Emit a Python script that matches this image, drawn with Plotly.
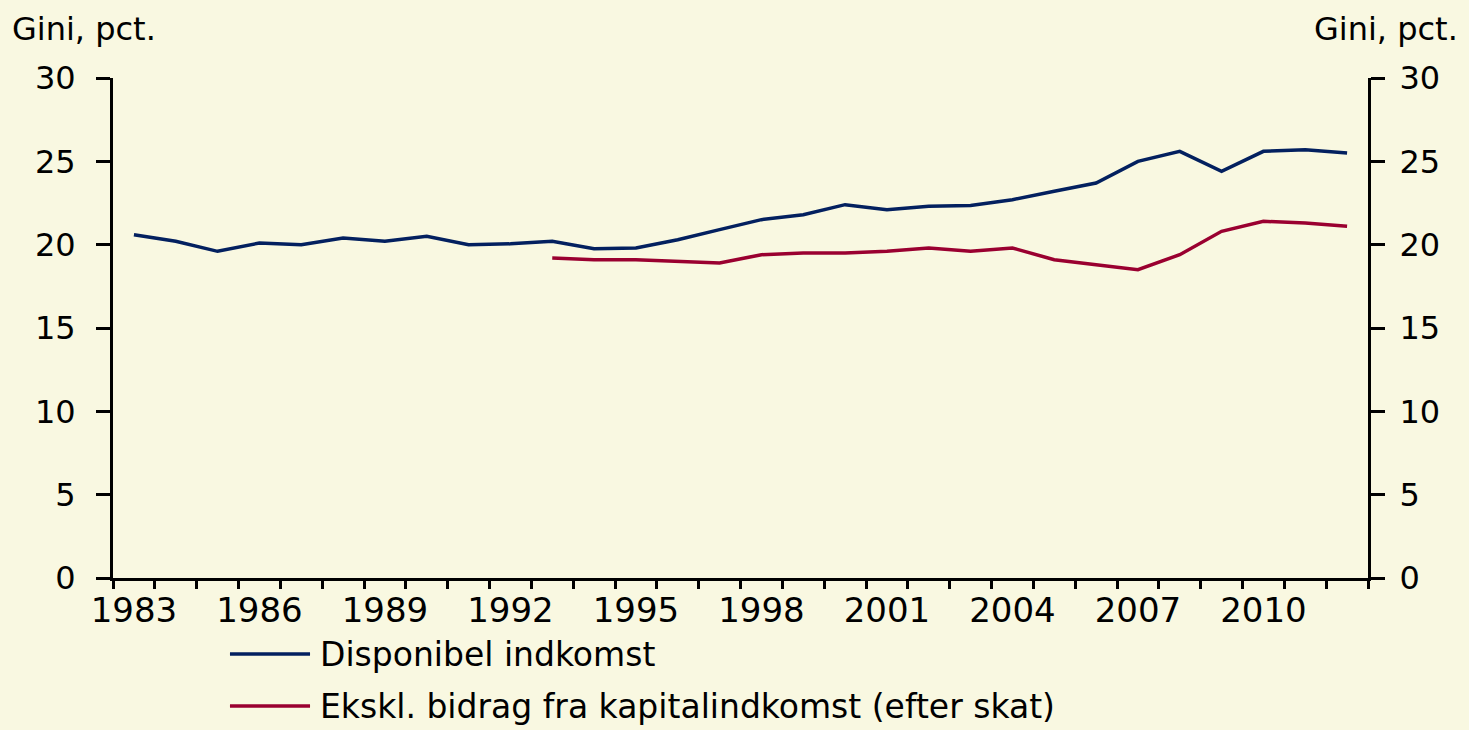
import plotly.graph_objects as go

years = list(range(1983, 2013))
disponibel = [20.6, 20.2, 19.6, 20.1, 20.0, 20.4, 20.2, 20.5, 20.0, 20.05,
              20.2, 19.75, 19.8, 20.3, 20.9, 21.5, 21.8, 22.4, 22.1, 22.3,
              22.35, 22.7, 23.2, 23.7, 25.0, 25.6, 24.4, 25.6, 25.7, 25.5]
ekskl_years = list(range(1993, 2013))
ekskl = [19.2, 19.1, 19.1, 19.0, 18.9, 19.4, 19.5, 19.5, 19.6, 19.8,
         19.6, 19.8, 19.1, 18.8, 18.5, 19.4, 20.8, 21.4, 21.3, 21.1]
label_years = list(range(1983, 2013, 3))
name_disp = "Disponibel indkomst"
name_ekskl = "Ekskl. bidrag fra kapitalindkomst (efter skat)"
y_title = "Gini, pct."

BG = "#F9F8E1"
BLUE = "#03205F"
RED = "#9A0030"
FONT = "DejaVu Sans"

fig = go.Figure()
fig.add_trace(go.Scatter(x=years, y=disponibel, mode="lines", name=name_disp,
                         line=dict(color=BLUE, width=3.5)))
fig.add_trace(go.Scatter(x=ekskl_years, y=ekskl, mode="lines", name=name_ekskl,
                         line=dict(color=RED, width=3.5)))
# invisible trace to carry right axis
fig.add_trace(go.Scatter(x=[years[0]], y=[None], yaxis="y2", showlegend=False,
                         hoverinfo="skip"))

boundaries = [y - 0.5 for y in years] + [years[-1] + 0.5]

# manual legend (below the plot)
legend_items = [(name_disp, BLUE, -0.152), (name_ekskl, RED, -0.256)]
shapes = []
annotations = []
for name, color, ly in legend_items:
    shapes.append(dict(type="line", xref="paper", yref="paper",
                       x0=0.0932, x1=0.157, y0=ly, y1=ly,
                       line=dict(color=color, width=3.5)))
    annotations.append(dict(text=name, xref="paper", yref="paper",
                            x=0.163, y=ly, xanchor="left", yanchor="middle",
                            showarrow=False, font=dict(size=33)))

annotations += [
    dict(text=y_title, xref="paper", yref="paper", x=-0.082, y=1.0,
         xanchor="left", yanchor="bottom", yshift=28, showarrow=False,
         font=dict(size=32)),
    dict(text=y_title, xref="paper", yref="paper", x=1.0733, y=1.0,
         xanchor="right", yanchor="bottom", yshift=28, showarrow=False,
         font=dict(size=32)),
]

fig.update_layout(
    width=1469, height=730,
    paper_bgcolor=BG, plot_bgcolor=BG,
    margin=dict(l=113, r=101, t=78, b=152),
    font=dict(family=FONT, size=32, color="black"),
    showlegend=False,
    xaxis=dict(range=[years[0] - 0.5, years[-1] + 0.5],
               tickvals=label_years, ticks="", showgrid=False, zeroline=False,
               showline=True, linecolor="black", linewidth=3,
               tickfont=dict(size=34), ticklabelstandoff=0,
               minor=dict(tickvals=boundaries, ticks="outside", ticklen=8,
                          tickwidth=3, tickcolor="black", showgrid=False)),
    yaxis=dict(range=[0, 30], dtick=5, ticks="outside", ticklen=14, tickwidth=3,
               tickcolor="black", showgrid=False, zeroline=False, showline=True,
               linecolor="black", linewidth=3, tickfont=dict(size=32),
               ticklabelstandoff=14),
    yaxis2=dict(range=[0, 30], dtick=5, overlaying="y", side="right",
                ticks="outside", ticklen=14, tickwidth=3, tickcolor="black",
                showgrid=False, zeroline=False, showline=True, linecolor="black",
                linewidth=3, tickfont=dict(size=32), ticklabelstandoff=8),
    shapes=shapes,
    annotations=annotations,
)

fig.write_html(
    "out.html",
    config={"displayModeBar": False},
    post_script=("document.body.style.margin='0';"
                 "document.body.style.background='" + BG + "';"),
)
